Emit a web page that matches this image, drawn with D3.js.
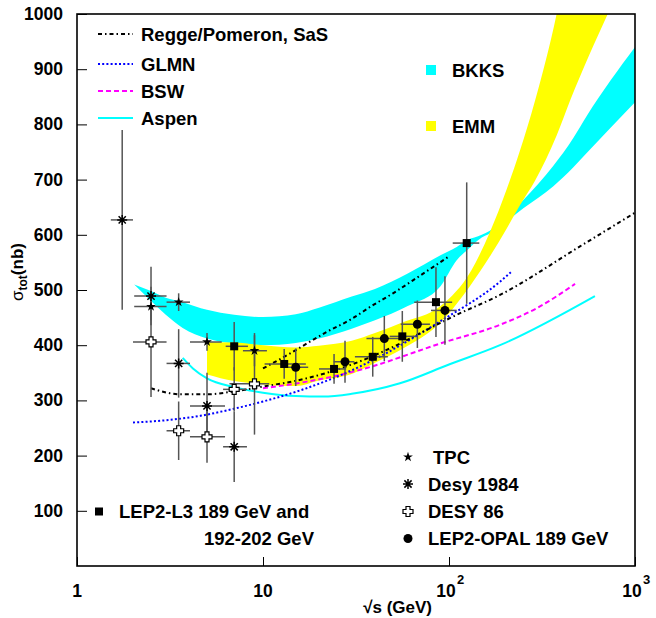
<!DOCTYPE html>
<html>
<head>
<meta charset="utf-8">
<script src="https://cdn.jsdelivr.net/npm/d3@7"></script>
<style>
body { margin: 0; background: #fff; }
text { font-family: "Liberation Sans", Arial, Helvetica, sans-serif; font-weight: bold; fill: #000; }
</style>
</head>
<body>
<div id="chart"></div>
<script>
// ---- model curves (sqrt(s) in GeV, sigma in nb) ----
const reggeS   = [2.5, 3.6, 5, 6.9, 10, 17.2, 29.4, 48, 76, 110, 188, 506, 1000];
const reggeSig = [322, 311, 311, 316, 325, 340, 364, 394, 428, 455, 491, 579, 640];

const sasS   = [10, 14, 17.2, 22, 29.4, 39.2, 50, 64.3, 82.4, 99];
const sasSig = [358, 385, 403, 424, 446, 473, 494, 518, 542, 560];

const glmnS   = [2, 3, 4.6, 7, 10, 15.8, 33, 39, 89.5, 188, 215];
const glmnSig = [260, 264, 272, 285, 298, 318, 361, 373, 443, 515, 532];

const bswS   = [10, 17.2, 33, 39, 89.5, 188, 300, 476];
const bswSig = [322, 334, 355, 362, 403, 437, 468, 511];

const aspenS   = [3.7, 4.2, 5, 7, 10, 15, 21, 30, 54.5, 100, 188, 609];
const aspenSig = [377, 358, 340, 324, 314, 308, 307, 312, 331, 365, 400, 489];

// bands
const bkksS  = [2.03, 2.5, 3, 3.7, 5, 7, 10, 15, 20, 30, 40, 60, 90, 110, 125, 150, 165, 251, 364, 465, 550, 1000];
const bkksHi = [510, 498, 486, 478, 464, 455, 451, 456, 468, 488, 502, 530, 563, 578, 590, 600, 607, 663, 725, 775, 815, 940];
const bkksLo = [510, 480, 455, 431, 412, 403, 400, 404, 412, 430, 445, 471, 507, 554, 572, 595, 602, 648, 688, 722, 748, 840];

const emmS  = [5, 7, 10, 15, 20, 30, 40, 56, 90, 132, 166, 204, 241, 290, 379, 450, 718];
const emmHi = [406, 405, 400, 396, 399, 408, 422, 441, 471, 536, 605, 682, 753, 843, 1000, 1130, 1500];
const emmLo = [347, 335, 329, 326, 336, 348, 368, 393, 441, 511, 561, 611, 654, 698, 780, 845, 1002];

// ---- measurements ----
const tpcS = [2.5, 3.52, 5.0, 9.0];
const tpcSig = [470, 478, 406, 390];
const tpcErr = [25, 16, 16, 28];
const tpcLo = [2.03, 3.03, 4.05, 7.8];
const tpcHi = [3.03, 4.05, 6.0, 10.5];

const desy84S = [1.75, 2.5, 3.52, 5.0, 7.0];
const desy84Sig = [627, 489, 367, 290, 216];
const desy84Err = [163, 53, 62, 60, 64];
const desy84Lo = [1.52, 2.03, 3.03, 4.05, 6.1];
const desy84Hi = [2.0, 3.03, 4.05, 6.25, 8.2];

const desy86S = [2.5, 3.52, 5.0, 7.0, 9.0];
const desy86Sig = [406, 245, 234, 320, 330];
const desy86Err = [100, 53, 47, 40, 92];
const desy86Lo = [2.0, 3.03, 4.05, 6.1, 6.6];
const desy86Hi = [3.03, 4.05, 6.25, 8.2, 10.8];

const l3S = [7.0, 13.0, 24.1, 38.9, 56.1, 85.1, 124.5];
const l3Sig = [398, 366, 357, 379, 416, 478, 585];
const l3Err = [44, 27, 27, 36, 46, 63, 110];
const l3Lo = [6.3, 10.2, 20, 31.2, 48, 65, 104.7];
const l3Hi = [8.3, 17, 28, 46.9, 66, 104, 145.5];

const opalS = [15.0, 27.6, 44.9, 67.6, 95.1];
const opalSig = [360, 370, 412, 438, 463];
const opalErr = [34, 38, 41, 43, 62];
const opalLo = [13, 24, 36, 55, 80];
const opalHi = [17.5, 31, 55, 79, 110];

// ---- axes ticks ----
const xTickVals = [1, 10, 100, 1000];
const xTickBase = ["1", "10", "10", "10"];
const xTickExp = ["", "", "2", "3"];
const yTickVals = [100, 200, 300, 400, 500, 600, 700, 800, 900, 1000];

var width = 656;
var height = 618;

var x = d3.scaleLog().domain([1, 1000]).range([77, 635]);
var y = d3.scaleLinear().domain([0, 1000]).range([566, 14]);

var svg = d3.select("#chart").append("svg")
    .attr("width", width)
    .attr("height", height);

svg.append("defs").append("clipPath").attr("id", "plotclip")
    .append("rect")
    .attr("x", x.range()[0]).attr("y", y.range()[1])
    .attr("width", x.range()[1] - x.range()[0])
    .attr("height", y.range()[0] - y.range()[1]);

var plot = svg.append("g").attr("clip-path", "url(#plotclip)");

// bands
var band = d3.area()
    .x(d => x(d[0]))
    .y0(d => y(d[1]))
    .y1(d => y(d[2]))
    .curve(d3.curveMonotoneX);

plot.append("path")
    .attr("d", band(d3.zip(bkksS, bkksLo, bkksHi)))
    .attr("fill", "#00ffff");

plot.append("path")
    .attr("d", band(d3.zip(emmS, emmLo, emmHi)))
    .attr("fill", "#ffff00");

// model lines
var line = d3.line()
    .x(d => x(d[0]))
    .y(d => y(d[1]))
    .curve(d3.curveMonotoneX);

var curves = [
    { s: aspenS, v: aspenSig, color: "#00ffff", dash: null },
    { s: bswS, v: bswSig, color: "#ff00ff", dash: "5,3" },
    { s: glmnS, v: glmnSig, color: "#0000ff", dash: "2,2.2" },
    { s: reggeS, v: reggeSig, color: "#000000", dash: "4,3,1.5,3" },
    { s: sasS, v: sasSig, color: "#000000", dash: "4,3,1.5,3" }
];

curves.forEach(function (c) {
    plot.append("path")
        .attr("d", line(d3.zip(c.s, c.v)))
        .attr("fill", "none")
        .attr("stroke", c.color)
        .attr("stroke-width", 2)
        .attr("stroke-dasharray", c.dash);
});

// error bars
function errorBars(sArr, vArr, eArr, loArr, hiArr) {
    var g = plot.append("g").attr("stroke", "#555").attr("stroke-width", 1.5);
    sArr.forEach(function (s, i) {
        g.append("line")
            .attr("x1", x(s)).attr("x2", x(s))
            .attr("y1", y(vArr[i] - eArr[i])).attr("y2", y(vArr[i] + eArr[i]));
        g.append("line")
            .attr("x1", x(loArr[i])).attr("x2", x(hiArr[i]))
            .attr("y1", y(vArr[i])).attr("y2", y(vArr[i]));
    });
}
errorBars(desy84S, desy84Sig, desy84Err, desy84Lo, desy84Hi);
errorBars(desy86S, desy86Sig, desy86Err, desy86Lo, desy86Hi);
errorBars(tpcS, tpcSig, tpcErr, tpcLo, tpcHi);
errorBars(l3S, l3Sig, l3Err, l3Lo, l3Hi);
errorBars(opalS, opalSig, opalErr, opalLo, opalHi);

// markers
var starPath = d3.symbol(d3.symbolStar, 30)();
var asteriskPath = "M-5,0L5,0M0,-5L0,5M-3.6,-3.6L3.6,3.6M-3.6,3.6L3.6,-3.6";
var crossPath = "M-2,-5L2,-5L2,-2L5,-2L5,2L2,2L2,5L-2,5L-2,2L-5,2L-5,-2L-2,-2Z";

function drawMarker(g, type, cx, cy) {
    if (type === "star") {
        g.append("path").attr("d", starPath).attr("transform", `translate(${cx},${cy})`).attr("fill", "#000");
    } else if (type === "asterisk") {
        g.append("path").attr("d", asteriskPath).attr("transform", `translate(${cx},${cy})`)
            .attr("stroke", "#000").attr("stroke-width", 1.5).attr("fill", "none");
    } else if (type === "cross") {
        g.append("path").attr("d", crossPath).attr("transform", `translate(${cx},${cy})`)
            .attr("fill", "#fff").attr("stroke", "#000").attr("stroke-width", 1.2);
    } else if (type === "square") {
        g.append("rect").attr("x", cx - 4).attr("y", cy - 4).attr("width", 8).attr("height", 8).attr("fill", "#000");
    } else if (type === "circle") {
        g.append("circle").attr("cx", cx).attr("cy", cy).attr("r", 4.5).attr("fill", "#000");
    }
}

var marks = plot.append("g");
desy84S.forEach((s, i) => drawMarker(marks, "asterisk", x(s), y(desy84Sig[i])));
desy86S.forEach((s, i) => drawMarker(marks, "cross", x(s), y(desy86Sig[i])));
tpcS.forEach((s, i) => drawMarker(marks, "star", x(s), y(tpcSig[i])));
l3S.forEach((s, i) => drawMarker(marks, "square", x(s), y(l3Sig[i])));
opalS.forEach((s, i) => drawMarker(marks, "circle", x(s), y(opalSig[i])));

// axes
var gx = svg.append("g").attr("transform", "translate(0," + y(0) + ")");
gx.call(d3.axisBottom(x).tickValues(x.ticks()).tickSize(-4.5).tickFormat(""));
gx.call(d3.axisBottom(x).tickValues(xTickVals).tickSize(-9).tickFormat(""));
gx.selectAll(".domain").remove();

var gy = svg.append("g").attr("transform", "translate(" + x(1) + ",0)");
gy.call(d3.axisLeft(y).tickValues(d3.range(0, 1001, 20)).tickSize(-5).tickFormat(""));
gy.call(d3.axisLeft(y).tickValues(yTickVals).tickSize(-10).tickFormat(""));
gy.selectAll(".domain").remove();
svg.selectAll(".tick line").attr("stroke", "#000");

// frame
svg.append("rect")
    .attr("x", x.range()[0]).attr("y", y.range()[1])
    .attr("width", x.range()[1] - x.range()[0])
    .attr("height", y.range()[0] - y.range()[1])
    .attr("fill", "none").attr("stroke", "#000").attr("stroke-width", 1.6);

// tick labels
svg.selectAll(".ylab").data(yTickVals).enter().append("text")
    .attr("class", "ylab")
    .attr("x", 63)
    .attr("y", d => y(d) + 6)
    .attr("text-anchor", "end")
    .style("font-size", "17.5px")
    .text(d => d);

xTickVals.forEach(function (v, i) {
    svg.append("text")
        .attr("x", x(v) - (xTickExp[i] ? 3 : 0))
        .attr("y", 597)
        .attr("text-anchor", "middle")
        .style("font-size", "17.5px")
        .text(xTickBase[i]);
    if (xTickExp[i]) {
        svg.append("text")
            .attr("x", x(v) + 8)
            .attr("y", 584)
            .style("font-size", "13px")
            .text(xTickExp[i]);
    }
});

// axis titles
svg.append("text")
    .attr("x", 432).attr("y", 613)
    .attr("text-anchor", "end")
    .style("font-size", "17px")
    .text("\u221As (GeV)");

var yt = svg.append("text")
    .attr("transform", "translate(23,272) rotate(-90)")
    .attr("text-anchor", "middle")
    .style("font-size", "17px");
yt.append("tspan").text("\u03C3").style("font-weight", "normal");
yt.append("tspan").text("tot").attr("dy", 4).style("font-size", "12px");
yt.append("tspan").text("(nb)").attr("dy", -4);

// legend: models
var modelLegend = [
    { label: "Regge/Pomeron, SaS", color: "#000", dash: "4,3,1.5,3", y: 34 },
    { label: "GLMN", color: "#0000ff", dash: "2,2.2", y: 64 },
    { label: "BSW", color: "#ff00ff", dash: "5,3", y: 91 },
    { label: "Aspen", color: "#00ffff", dash: null, y: 118 }
];
modelLegend.forEach(function (d) {
    svg.append("line")
        .attr("x1", 98).attr("x2", 133).attr("y1", d.y).attr("y2", d.y)
        .attr("stroke", d.color).attr("stroke-width", 2)
        .attr("stroke-dasharray", d.dash);
    svg.append("text")
        .attr("x", 141).attr("y", d.y + 6.5)
        .style("font-size", "18.5px")
        .text(d.label);
});

// legend: bands
[{ label: "BKKS", color: "#00ffff", y: 70 }, { label: "EMM", color: "#ffff00", y: 126 }].forEach(function (d) {
    svg.append("rect").attr("x", 426).attr("y", d.y - 5).attr("width", 10).attr("height", 10).attr("fill", d.color);
    svg.append("text").attr("x", 452).attr("y", d.y + 6.5).style("font-size", "18.5px").text(d.label);
});

// legend: data
var lg = svg.append("g");
var dataLegend = [
    { label: "TPC", type: "star", y: 457, tx: 433 },
    { label: "Desy 1984", type: "asterisk", y: 484, tx: 428 },
    { label: "DESY 86", type: "cross", y: 511.5, tx: 428 },
    { label: "LEP2-OPAL 189 GeV", type: "circle", y: 538.5, tx: 428 }
];
dataLegend.forEach(function (d) {
    drawMarker(lg, d.type, 408, d.y);
    lg.append("text").attr("x", d.tx).attr("y", d.y + 6.5).style("font-size", "18.5px").text(d.label);
});
drawMarker(lg, "square", 99, 511.5);
lg.append("text").attr("x", 119).attr("y", 518).style("font-size", "18.5px").text("LEP2-L3 189 GeV and");
lg.append("text").attr("x", 314).attr("y", 545).attr("text-anchor", "end").style("font-size", "18.5px").text("192-202 GeV");
</script>
</body>
</html>
